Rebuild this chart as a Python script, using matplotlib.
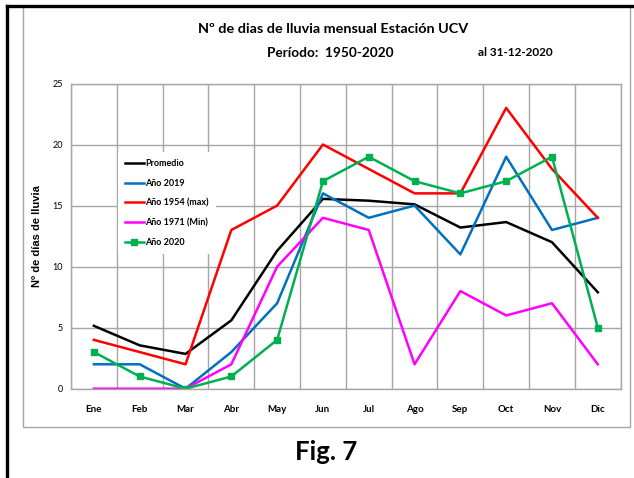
import matplotlib
matplotlib.use("Agg")
import matplotlib.pyplot as plt
from matplotlib.lines import Line2D
from matplotlib.patches import Rectangle

# Monthly number of rainy days, Estación UCV
months = ["Ene", "Feb", "Mar", "Abr", "May", "Jun",
          "Jul", "Ago", "Sep", "Oct", "Nov", "Dic"]
promedio = [5.15, 3.55, 2.85, 5.6, 11.3, 15.55, 15.4, 15.1, 13.2, 13.65, 12.0, 7.9]
anio_2019 = [2, 2, 0, 3, 7, 16, 14, 15, 11, 19, 13, 14]
anio_1954 = [4, 3, 2, 13, 15, 20, 18, 16, 16, 23, 18, 14]
anio_1971 = [0, 0, 0, 2, 10, 14, 13, 2, 8, 6, 7, 2]
anio_2020 = [3, 1, 0, 1, 4, 17, 19, 17, 16, 17, 19, 5]

plt.rcParams["font.family"] = ["Lato", "DejaVu Sans"]

W, H = 634, 478
fig = plt.figure(figsize=(W / 100, H / 100), dpi=100)


def fx(px):
    return px / W


def fy(py):
    return 1 - py / H


# outer frame: gray chart-area box plus black top/left edge
fig.patches.append(Rectangle((fx(22.5), fy(427)), fx(630) - fx(22.5), fy(6.5) - fy(427),
                             transform=fig.transFigure, fill=False,
                             edgecolor="#a6a6a6", linewidth=1.0))
fig.lines.append(Line2D([fx(6.5), 1], [fy(5.5), fy(5.5)], transform=fig.transFigure,
                        color="black", linewidth=2.4))
fig.lines.append(Line2D([fx(6.5), fx(6.5)], [0, fy(5.5)], transform=fig.transFigure,
                        color="black", linewidth=2.4))

ax = fig.add_axes([fx(71), fy(388.7), fx(620.7) - fx(71), fy(83.5) - fy(388.7)])

x = range(len(months))
ax.plot(x, promedio, color="black", lw=1.8, label="Promedio")
ax.plot(x, anio_2019, color="#0070c0", lw=1.8, label="Año 2019")
ax.plot(x, anio_1954, color="#ff0000", lw=1.8, label="Año 1954 (max)")
ax.plot(x, anio_1971, color="#ff00ff", lw=1.8, label="Año 1971 (Min)")
ax.plot(x, anio_2020, color="#00b050", lw=1.8, marker="s", ms=4.2,
        label="Año 2020")

ax.set_xlim(-0.5, len(months) - 0.5)
ax.set_ylim(0, 25)
ax.set_yticks(range(0, 26, 5))
ax.set_xticks(list(x))
ax.set_xticklabels(months, fontweight="bold", fontsize=7)
ax.set_xticks([i - 0.5 for i in range(len(months) + 1)], minor=True)
ax.tick_params(axis="both", which="both", length=0)
ax.tick_params(axis="x", which="major", pad=12)
ax.tick_params(axis="y", labelsize=6.5, pad=6)
ax.grid(True, axis="y", which="major", color="#a6a6a6", lw=1.0)
ax.grid(True, axis="x", which="minor", color="#a6a6a6", lw=1.0)
ax.set_axisbelow(True)
for s in ax.spines.values():
    s.set_color("#a6a6a6")
    s.set_linewidth(1.0)

ax.set_ylabel("Nº de días de lluvia", fontweight="bold", fontsize=8,
              family=["Liberation Sans", "DejaVu Sans"], labelpad=7)

leg = ax.legend(loc="upper left", bbox_to_anchor=(0.085, 0.775), frameon=True,
                fancybox=False, edgecolor="none", facecolor="white", framealpha=1,
                prop={"weight": "bold", "size": 6.5}, handlelength=2.1,
                handletextpad=0.1, labelspacing=1.17, borderpad=0.8,
                borderaxespad=0)

fig.text(fx(333), fy(29), "Nº de dias de lluvia mensual Estación UCV",
         ha="center", va="center", fontsize=10.4, fontweight="bold")
fig.text(fx(330), fy(53), "Período:  1950-2020", ha="center", va="center",
         fontsize=9.8, fontweight="bold")
fig.text(fx(515), fy(53), "al 31-12-2020", ha="center", va="center",
         fontsize=8.5, fontweight="bold")
fig.text(fx(326), fy(451.5), "Fig. 7", ha="center", va="center",
         fontsize=18.5, fontweight="bold")

fig.savefig("out.png", dpi=100)
